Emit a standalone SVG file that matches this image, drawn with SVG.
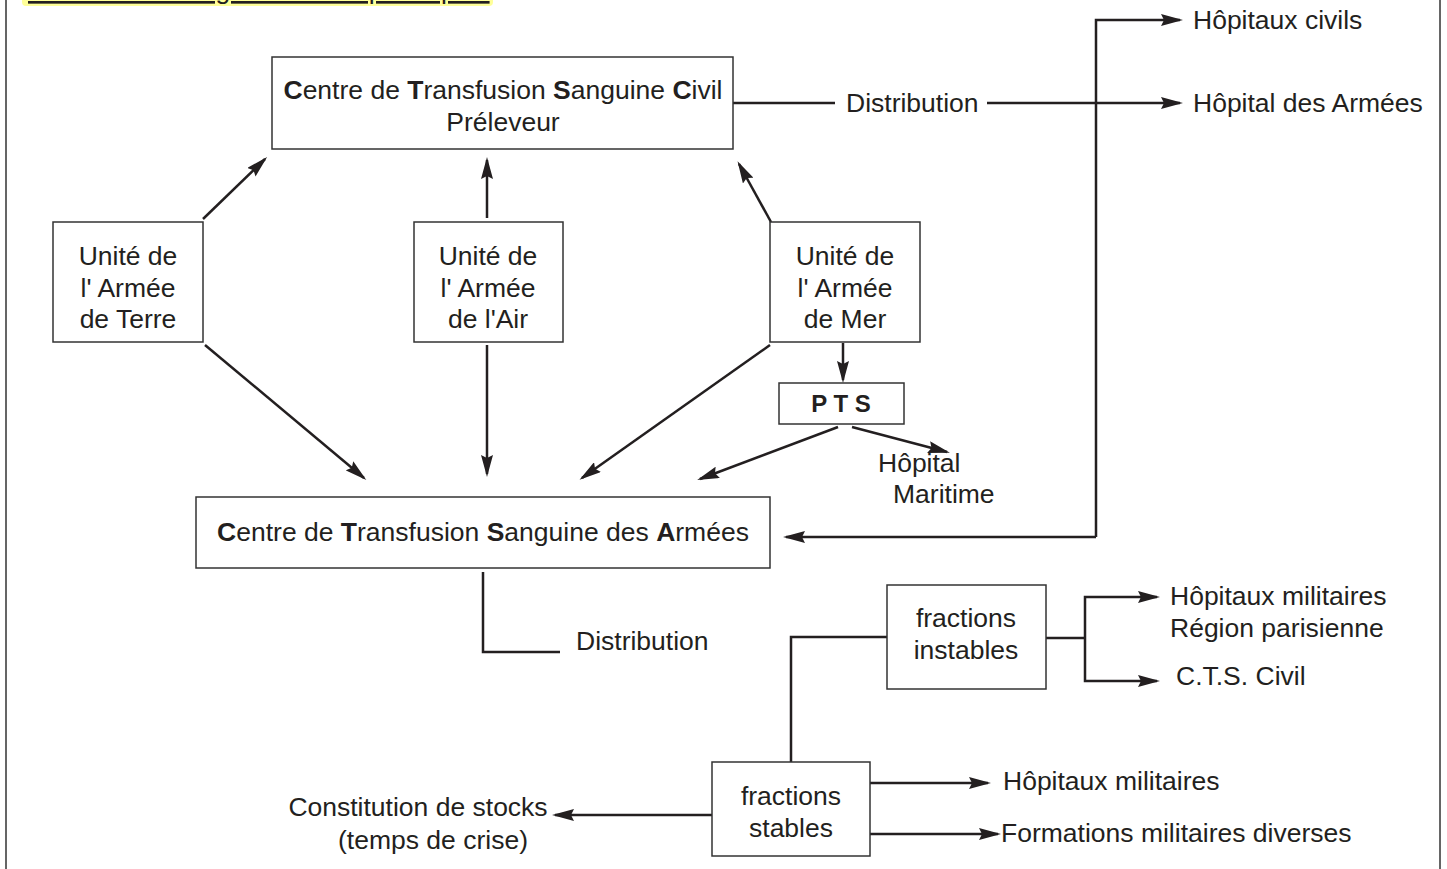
<svg xmlns="http://www.w3.org/2000/svg" width="1447" height="869" viewBox="0 0 1447 869">
<style>
text{font-family:"Liberation Sans",Arial,sans-serif;font-size:26.5px;fill:#231f20}
.c{text-anchor:middle}
.b{font-weight:bold}
.box{fill:#fff;stroke:#333;stroke-width:1.5}
.ln{fill:none;stroke:#231f20;stroke-width:2.5}
.ar{marker-end:url(#ah)}
</style>
<defs>
<marker id="ah" viewBox="0 0 22 12" refX="19" refY="6" markerWidth="22" markerHeight="12" orient="auto" markerUnits="userSpaceOnUse">
<path d="M0,0 L22,6 L0,12 L3,6 z" fill="#231f20"/>
</marker>
</defs>
<rect x="0" y="0" width="1447" height="869" fill="#fff"/>
<rect x="6" y="-20" width="1434" height="920" fill="none" stroke="#333" stroke-width="1.5"/>
<g id="title">
<rect x="22" y="-12" width="471" height="18" rx="4" fill="#ffff99"/>
<text x="28" y="-1" text-decoration="underline">Transfusion sanguine en temps de paix</text>
</g>
<g id="connectors">
<path class="ln ar" d="M203,219 L265,159"/>
<path class="ln ar" d="M487,218 L487,160"/>
<path class="ln ar" d="M771,222 L739,164"/>
<path class="ln ar" d="M205,345 L364,478"/>
<path class="ln ar" d="M487,345 L487,474"/>
<path class="ln ar" d="M770,345 L582,478"/>
<path class="ln ar" d="M843,343 L843,380"/>
<path class="ln ar" d="M838,427 L700,479"/>
<path class="ln ar" d="M852,427 L947,452"/>
<path class="ln" d="M733,103 L835,103"/>
<path class="ln ar" d="M987,103 L1180,103"/>
<path class="ln ar" d="M1096,537 L1096,20 L1180,20"/>
<path class="ln ar" d="M1096,537 L786,537"/>
<path class="ln" d="M483,572 L483,652 L560,652"/>
<path class="ln" d="M887,637 L791,637 L791,762"/>
<path class="ln" d="M1046,638 L1085,638"/>
<path class="ln ar" d="M1085,638 L1085,597 L1157,597"/>
<path class="ln ar" d="M1085,638 L1085,681 L1157,681"/>
<path class="ln ar" d="M712,815 L555,815"/>
<path class="ln ar" d="M870,783 L988,783"/>
<path class="ln ar" d="M870,834 L998,834"/>
</g>
<g id="cts-civil">
<rect class="box" x="272" y="57" width="461" height="92"/>
<text class="c" x="503" y="99"><tspan class="b">C</tspan>entre de <tspan class="b">T</tspan>ransfusion <tspan class="b">S</tspan>anguine <tspan class="b">C</tspan>ivil</text>
<text class="c" x="503" y="131">Préleveur</text>
</g>
<g id="distribution-top"><text x="846" y="112">Distribution</text></g>
<g id="hopitaux-civils"><text x="1193" y="29">Hôpitaux civils</text></g>
<g id="hopital-armees"><text x="1193" y="112">Hôpital des Armées</text></g>
<g id="unite-terre">
<rect class="box" x="53" y="222" width="150" height="120"/>
<text class="c" x="128" y="265">Unité de</text>
<text class="c" x="128" y="297">l' Armée</text>
<text class="c" x="128" y="328">de Terre</text>
</g>
<g id="unite-air">
<rect class="box" x="414" y="222" width="149" height="120"/>
<text class="c" x="488" y="265">Unité de</text>
<text class="c" x="488" y="297">l' Armée</text>
<text class="c" x="488" y="328">de l'Air</text>
</g>
<g id="unite-mer">
<rect class="box" x="770" y="222" width="150" height="120"/>
<text class="c" x="845" y="265">Unité de</text>
<text class="c" x="845" y="297">l' Armée</text>
<text class="c" x="845" y="328">de Mer</text>
</g>
<g id="pts">
<rect class="box" x="779" y="383" width="125" height="41"/>
<text class="c b" x="841" y="412" style="font-size:24px">P T S</text>
</g>
<g id="hopital-maritime">
<text x="878" y="472">Hôpital</text>
<text x="893" y="503">Maritime</text>
</g>
<g id="ctsa">
<rect class="box" x="196" y="497" width="574" height="71"/>
<text class="c" x="483" y="541"><tspan class="b">C</tspan>entre de <tspan class="b">T</tspan>ransfusion <tspan class="b">S</tspan>anguine des <tspan class="b">A</tspan>rmées</text>
</g>
<g id="distribution-bottom"><text x="576" y="650">Distribution</text></g>
<g id="fractions-instables">
<rect class="box" x="887" y="585" width="159" height="104"/>
<text class="c" x="966" y="627">fractions</text>
<text class="c" x="966" y="659">instables</text>
</g>
<g id="hopitaux-militaires-rp">
<text x="1170" y="605">Hôpitaux militaires</text>
<text x="1170" y="637">Région parisienne</text>
</g>
<g id="cts-civil-label"><text x="1176" y="685">C.T.S. Civil</text></g>
<g id="fractions-stables">
<rect class="box" x="712" y="762" width="158" height="94"/>
<text class="c" x="791" y="805">fractions</text>
<text class="c" x="791" y="837">stables</text>
</g>
<g id="stocks">
<text class="c" x="418" y="816">Constitution de stocks</text>
<text class="c" x="433" y="849">(temps de crise)</text>
</g>
<g id="hopitaux-militaires"><text x="1003" y="790">Hôpitaux militaires</text></g>
<g id="formations"><text x="1001" y="842">Formations militaires diverses</text></g>
</svg>
